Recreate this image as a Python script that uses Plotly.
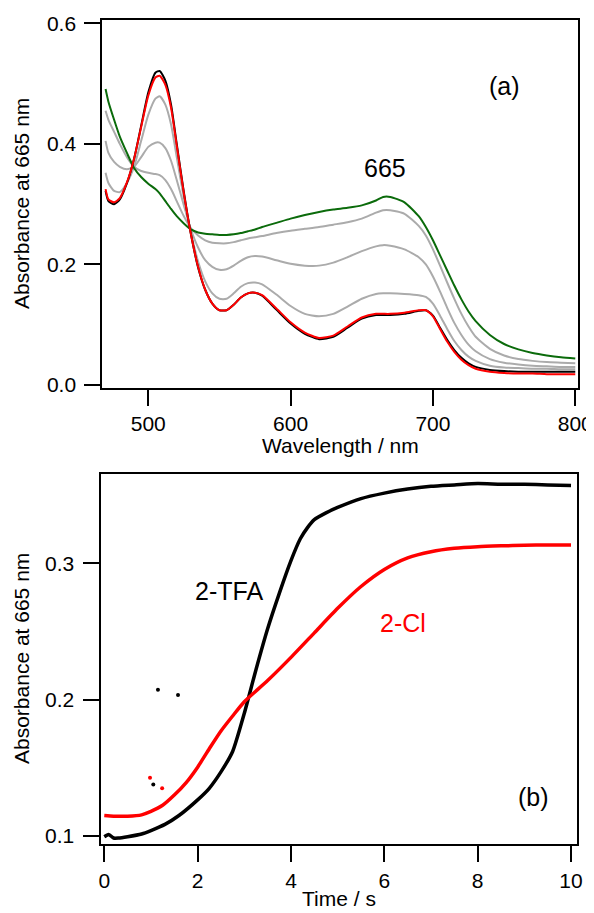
import plotly.graph_objects as go

# ---------------- Panel (a): spectra ----------------
wavelength = [470, 472, 476, 480, 485, 490, 495, 500, 505, 508, 512, 516, 520, 525,
              530, 535, 540, 545, 550, 555, 560, 565, 570, 575, 580, 590, 600, 610,
              620, 630, 640, 650, 660, 665, 670, 680, 690, 695, 700, 705, 710, 715,
              720, 725, 730, 740, 750, 760, 770, 780, 790, 800]

spec_black = [0.322, 0.305, 0.300, 0.308, 0.335, 0.375, 0.430, 0.485, 0.518, 0.521, 0.505, 0.465, 0.400, 0.320,
              0.250, 0.195, 0.158, 0.135, 0.124, 0.124, 0.133, 0.145, 0.152, 0.153, 0.148, 0.125, 0.102, 0.085,
              0.076, 0.080, 0.095, 0.110, 0.116, 0.116, 0.116, 0.118, 0.123, 0.124, 0.115, 0.095, 0.075, 0.058,
              0.045, 0.036, 0.030, 0.025, 0.023, 0.022, 0.022, 0.022, 0.022, 0.022]

spec_red = [0.325, 0.308, 0.303, 0.310, 0.336, 0.375, 0.428, 0.480, 0.510, 0.513, 0.498, 0.460, 0.397, 0.318,
            0.250, 0.196, 0.158, 0.135, 0.124, 0.124, 0.133, 0.145, 0.152, 0.153, 0.149, 0.127, 0.104, 0.087,
            0.078, 0.082, 0.097, 0.112, 0.118, 0.118, 0.118, 0.120, 0.124, 0.124, 0.114, 0.093, 0.072, 0.055,
            0.042, 0.033, 0.027, 0.022, 0.020, 0.019, 0.019, 0.018, 0.018, 0.018]

spec_gray_low = [0.352, 0.335, 0.322, 0.320, 0.335, 0.362, 0.405, 0.448, 0.475, 0.479, 0.465, 0.432, 0.378, 0.310,
                 0.252, 0.205, 0.172, 0.152, 0.143, 0.143, 0.152, 0.163, 0.169, 0.170, 0.167, 0.150, 0.131, 0.118,
                 0.114, 0.118, 0.130, 0.143, 0.151, 0.152, 0.152, 0.151, 0.149, 0.146, 0.135, 0.115, 0.093, 0.073,
                 0.058, 0.047, 0.040, 0.032, 0.029, 0.028, 0.027, 0.027, 0.026, 0.026]

spec_gray_mid = [0.405, 0.385, 0.370, 0.362, 0.358, 0.362, 0.378, 0.395, 0.402, 0.402, 0.393, 0.372, 0.340, 0.298,
                 0.258, 0.228, 0.207, 0.196, 0.191, 0.192, 0.198, 0.206, 0.212, 0.214, 0.213, 0.207, 0.201, 0.198,
                 0.198, 0.203, 0.212, 0.222, 0.230, 0.232, 0.231, 0.225, 0.212, 0.200, 0.180, 0.155, 0.128, 0.103,
                 0.083, 0.067, 0.056, 0.043, 0.037, 0.034, 0.032, 0.031, 0.030, 0.030]

spec_gray_high = [0.455, 0.440, 0.420, 0.400, 0.378, 0.362, 0.355, 0.352, 0.350, 0.348, 0.340, 0.325, 0.305, 0.280,
                  0.260, 0.248, 0.240, 0.236, 0.235, 0.235, 0.237, 0.240, 0.243, 0.245, 0.247, 0.252, 0.256, 0.259,
                  0.262, 0.266, 0.270, 0.276, 0.286, 0.290, 0.290, 0.284, 0.264, 0.248, 0.225, 0.198, 0.170, 0.143,
                  0.118, 0.097, 0.080, 0.060, 0.049, 0.043, 0.040, 0.038, 0.037, 0.036]

spec_green = [0.491, 0.470, 0.440, 0.412, 0.385, 0.360, 0.345, 0.334, 0.325, 0.318, 0.305, 0.292, 0.280, 0.268,
              0.258, 0.253, 0.251, 0.250, 0.249, 0.249, 0.250, 0.252, 0.255, 0.258, 0.262, 0.269, 0.276, 0.282,
              0.287, 0.291, 0.294, 0.298, 0.306, 0.312, 0.312, 0.303, 0.280, 0.262, 0.240, 0.215, 0.190, 0.165,
              0.142, 0.122, 0.106, 0.083, 0.068, 0.059, 0.053, 0.049, 0.046, 0.044]

# ---------------- Panel (b): kinetics ----------------
time_tfa = [0, 0.05, 0.1, 0.2, 0.3, 0.5, 0.8, 1.0, 1.3, 1.6, 2.0, 2.25, 2.5, 2.75, 3.0, 3.25, 3.5, 3.75,
            4.0, 4.2, 4.35, 4.5, 4.75, 5.0, 5.5, 6.0, 6.5, 7.0, 7.5, 8.0, 8.5, 9.0, 9.5, 10.0]
abs_tfa = [0.0995, 0.1005, 0.1010, 0.0985, 0.0985, 0.0995, 0.1015, 0.1040, 0.1085, 0.1150, 0.1265, 0.1350,
           0.1470, 0.1620, 0.1900, 0.2220, 0.2520, 0.2780, 0.3020, 0.3180, 0.3260, 0.3320, 0.3370, 0.3410,
           0.3475, 0.3515, 0.3545, 0.3565, 0.3575, 0.3585, 0.3580, 0.3580, 0.3575, 0.3570]

time_cl = [0, 0.2, 0.5, 0.8, 1.0, 1.25, 1.5, 1.75, 2.0, 2.25, 2.5, 2.75, 3.0, 3.5, 4.0, 4.5, 5.0, 5.5,
           6.0, 6.5, 7.0, 7.5, 8.0, 8.5, 9.0, 9.5, 10.0]
abs_cl = [0.1150, 0.1145, 0.1145, 0.1155, 0.1180, 0.1225, 0.1300, 0.1390, 0.1505, 0.1640, 0.1770, 0.1880,
          0.1985, 0.2140, 0.2310, 0.2490, 0.2670, 0.2830, 0.2955, 0.3040, 0.3085, 0.3110, 0.3122, 0.3128,
          0.3132, 0.3135, 0.3135]

outlier_tfa_t = [1.05, 1.15, 1.58]
outlier_tfa_a = [0.1378, 0.2073, 0.2034]
outlier_cl_t = [0.98, 1.24]
outlier_cl_a = [0.1427, 0.1351]

FONT = "Liberation Sans, Arial, Helvetica, sans-serif"
GRAY = "#ababab"
GREEN = "#0b6b0b"
OFF = 8                      # page body margin shifts the figure by this many pixels
W, H = 594 - OFF, 913 - OFF  # figure reaches exactly to the window's right and bottom edges


def px(sx):
    return (sx - OFF) / W


def py(sy):
    return 1 - (sy - OFF) / H


fig = go.Figure()

for ys, col in [(spec_gray_high, GRAY), (spec_gray_mid, GRAY), (spec_gray_low, GRAY),
                (spec_green, GREEN), (spec_black, "black"), (spec_red, "#ff0000")]:
    fig.add_trace(go.Scatter(x=wavelength, y=ys, mode="lines",
                             line=dict(color=col, width=2, shape="spline", smoothing=0.6),
                             xaxis="x", yaxis="y", showlegend=False, hoverinfo="skip"))

fig.add_trace(go.Scatter(x=time_tfa, y=abs_tfa, mode="lines",
                         line=dict(color="black", width=3.5, shape="spline", smoothing=0.6),
                         xaxis="x2", yaxis="y2", showlegend=False))
fig.add_trace(go.Scatter(x=time_cl, y=abs_cl, mode="lines",
                         line=dict(color="#ff0000", width=3.5, shape="spline", smoothing=0.6),
                         xaxis="x2", yaxis="y2", showlegend=False))
fig.add_trace(go.Scatter(x=outlier_tfa_t, y=outlier_tfa_a, mode="markers",
                         marker=dict(color="black", size=4),
                         xaxis="x2", yaxis="y2", showlegend=False))
fig.add_trace(go.Scatter(x=outlier_cl_t, y=outlier_cl_a, mode="markers",
                         marker=dict(color="#ff0000", size=4),
                         xaxis="x2", yaxis="y2", showlegend=False))

axis_common = dict(showgrid=False, zeroline=False, showline=True, linecolor="black", linewidth=2,
                   mirror=True, ticks="outside", ticklen=16, tickwidth=2, tickcolor="black",
                   automargin=False,
                   tickfont=dict(family=FONT, size=21, color="black"))

fig.update_layout(
    template="none",
    width=W, height=H,
    margin=dict(l=0, r=0, t=0, b=0, pad=0),
    paper_bgcolor="white", plot_bgcolor="white",
    showlegend=False,
    xaxis=dict(domain=[px(102.3), px(577.7)], range=[467.7, 801.7], anchor="y",
               tickvals=[500, 600, 700, 800], **axis_common),
    yaxis=dict(domain=[py(388), py(20)], range=[-0.005, 0.6055], anchor="x",
               tickvals=[0.0, 0.2, 0.4, 0.6], tickformat=".1f", ticklabelstandoff=4, **axis_common),
    xaxis2=dict(domain=[px(100.5), px(576.7)], range=[-0.081, 10.122], anchor="y2",
                tickvals=[0, 2, 4, 6, 8, 10], **axis_common),
    yaxis2=dict(domain=[py(844.3), py(474.3)], range=[0.0939, 0.3653], anchor="x2",
                tickvals=[0.1, 0.2, 0.3], tickformat=".1f", ticklabelstandoff=4, **axis_common),
)

ann_font = dict(family=FONT, size=25, color="black")
title_font = dict(family=FONT, size=21, color="black")
C = dict(xanchor="center", yanchor="middle", showarrow=False)
annotations = [
    dict(text="(a)", x=750.6, y=0.496, xref="x", yref="y", font=ann_font, **C),
    dict(text="665", x=666.3, y=0.360, xref="x", yref="y", font=ann_font, **C),
    dict(text="2-TFA", x=2.672, y=0.2797, xref="x2", yref="y2", font=ann_font, **C),
    dict(text="2-Cl", x=6.40, y=0.2563, xref="x2", yref="y2",
         font=dict(family=FONT, size=25, color="#ff0000"), **C),
    dict(text="(b)", x=9.19, y=0.1286, xref="x2", yref="y2", font=ann_font, **C),
    dict(text="Absorbance at 665 nm", x=px(21), y=py(204), xref="paper", yref="paper",
         textangle=-90, font=title_font, **C),
    dict(text="Absorbance at 665 nm", x=px(21), y=py(659), xref="paper", yref="paper",
         textangle=-90, font=title_font, **C),
    dict(text="Wavelength / nm", x=px(340), y=py(445), xref="paper", yref="paper",
         font=title_font, **C),
    dict(text="Time / s", x=px(338.6), y=py(898), xref="paper", yref="paper",
         font=title_font, **C),
]
fig.update_layout(annotations=annotations)

fig.write_html("out.html")
